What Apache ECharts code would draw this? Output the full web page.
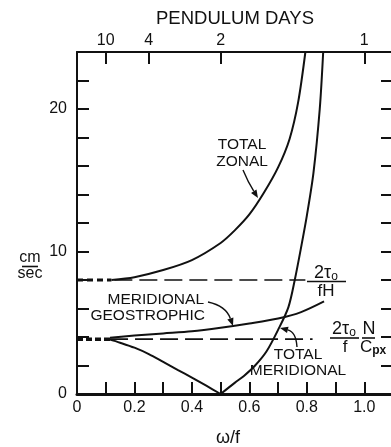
<!DOCTYPE html>
<html><head><meta charset="utf-8">
<script src="https://cdn.jsdelivr.net/npm/echarts@6/dist/echarts.min.js"></script>
<style>html,body{margin:0;padding:0;background:#fff}#c{width:391px;height:447px}</style>
</head><body><div id="c"></div>
<script>
// ---- data ----
const totalZonal = [[0.12,8.0],[0.2,8.2],[0.3,8.7],[0.4,9.4],[0.5,10.6],[0.55,11.5],[0.6,12.6],[0.65,14.1],[0.7,15.9],[0.74,17.9],[0.77,20.5],[0.795,24]];
const meridionalGeo = [[0.115,3.95],[0.2,4.1],[0.3,4.25],[0.4,4.4],[0.5,4.65],[0.6,4.95],[0.7,5.3],[0.78,5.75],[0.86,6.5]];
const totalMeridLeft = [[0.11,3.85],[0.15,3.6],[0.2,3.25],[0.25,2.8],[0.3,2.25],[0.35,1.7],[0.4,1.15],[0.45,0.58],[0.5,0]];
const totalMeridRight = [[0.5,0],[0.55,0.8],[0.58,1.25],[0.62,2.0],[0.66,3.0],[0.7,4.5],[0.736,6.1],[0.758,8.0],[0.782,10.5],[0.8,12.5],[0.823,15.5],[0.845,20],[0.857,24]];
const levelFH = 8.0;        // 2 tau_o / fH
const levelFCpx = 3.85;     // 2 tau_o N / f C_px
const upperDashX = [0.13, 0.795];
const lowerDashX = [0.115, 0.82];
const nearZeroX = [0, 0.12];
const xLabelValues = [0, 0.2, 0.4, 0.6, 0.8, 1.0];
const yLabelValues = [0, 10, 20];
const pendulumDays = [10, 4, 2, 1];

const FONT = '"Liberation Sans", Arial, sans-serif';
const INK = '#111';
const chart = echarts.init(document.getElementById('c'), null, {renderer:'canvas'});

const line = (data, w, type) => ({
  type:'line', data, showSymbol:false, symbol:'none', smooth: type ? false : 0.3,
  xAxisIndex:0, yAxisIndex:0,
  lineStyle:{color:INK, width:w, type: type || 'solid'}, animation:false, silent:true, clip:true
});

chart.setOption({
  backgroundColor:'#fff',
  animation:false,
  grid:{left:77, top:52, width:316, height:342, outerBoundsMode:'none', containLabel:false},
  xAxis:[
    {type:'value', position:'bottom', min:0, max:1.1, interval:0.1,
     axisLine:{show:true, onZero:false, lineStyle:{color:INK, width:3}},
     axisTick:{show:true, inside:true, length:12, lineStyle:{color:INK, width:2}},
     axisLabel:{customValues:xLabelValues, color:INK, fontFamily:FONT, fontSize:16, margin:6,
       formatter:v => v === 0 ? '0' : v.toFixed(1)},
     splitLine:{show:false}},
    {type:'value', position:'top', min:0, max:1.1,
     axisLine:{show:true, onZero:false, lineStyle:{color:INK, width:2}},
     axisTick:{show:true, inside:true, length:12, customValues:pendulumDays.map(d=>1/d), lineStyle:{color:INK, width:2}},
     axisLabel:{customValues:pendulumDays.map(d=>1/d), color:INK, fontFamily:FONT, fontSize:16, margin:3,
       formatter:v => String(Math.round(1/v))},
     splitLine:{show:false},
     name:'PENDULUM DAYS', nameLocation:'middle', nameGap:24,
     nameTextStyle:{color:INK, fontFamily:FONT, fontSize:18.5}}
  ],
  yAxis:[
    {type:'value', position:'left', min:0, max:24, interval:2,
     axisLine:{show:true, onZero:false, lineStyle:{color:INK, width:2}},
     axisTick:{show:true, inside:true, length:12, lineStyle:{color:INK, width:2}},
     axisLabel:{customValues:yLabelValues, color:INK, fontFamily:FONT, fontSize:16, margin:10},
     splitLine:{show:false}},
    {type:'value', position:'right', min:0, max:24, interval:2,
     axisLine:{show:true, onZero:false, lineStyle:{color:INK, width:2}},
     axisTick:{show:true, inside:true, length:12, lineStyle:{color:INK, width:2}},
     axisLabel:{show:false}, splitLine:{show:false}}
  ],
  series:[
    line(totalZonal, 2),
    line(meridionalGeo, 2),
    line(totalMeridLeft, 2),
    line(totalMeridRight, 2),
    line(upperDashX.map(x=>[x, levelFH]), 1.6, [18,7]),
    line(lowerDashX.map(x=>[x, levelFCpx]), 1.6, [18,7]),
    line(nearZeroX.map(x=>[x, levelFH]), 3, [6,4]),
    line(nearZeroX.map(x=>[x, levelFCpx]), 3.5, [6,3])
  ]
});

// ---- annotations ----
function txt(x, y, text, opts) {
  return {type:'text', x, y, silent:true,
    style:Object.assign({text, fill:INK, font:'15.5px ' + FONT, align:'center', verticalAlign:'middle'}, opts||{})};
}
function seg(x1,y1,x2,y2,w) {
  return {type:'line', silent:true, shape:{x1,y1,x2,y2}, style:{stroke:INK, lineWidth:w||1.5}};
}
function arrow(p0, c, p1) {
  const dx = p1[0]-c[0], dy = p1[1]-c[1];
  const L = Math.hypot(dx,dy), ux = dx/L, uy = dy/L;
  const hl = 8, hw = 3.2;
  const bx = p1[0]-ux*hl, by = p1[1]-uy*hl;
  return [
    {type:'bezierCurve', silent:true, shape:{x1:p0[0],y1:p0[1],cpx1:c[0],cpy1:c[1],x2:bx,y2:by},
     style:{stroke:INK, lineWidth:1.4, fill:null}},
    {type:'polygon', silent:true, shape:{points:[[p1[0],p1[1]],[bx-uy*hw,by+ux*hw],[bx+uy*hw,by-ux*hw]]},
     style:{fill:INK}}
  ];
}
const sub = {fontSize:12, verticalAlign:'bottom', padding:[8,0,0,0], fontFamily:FONT};
const g = [];
g.push(txt(30, 258, 'cm', {font:'16px ' + FONT}));
g.push(seg(22, 266.5, 38, 266.5, 1.6));
g.push(txt(30, 274, 'sec', {font:'16px ' + FONT}));
g.push(txt(228, 438, 'ω/f', {font:'18px ' + FONT}));
g.push(txt(242, 145, 'TOTAL'));
g.push(txt(242, 162, 'ZONAL'));
g.push(...arrow([243,170],[248,182],[258,198]));
g.push(txt(204, 300, 'MERIDIONAL', {align:'right'}));
g.push(txt(205, 316, 'GEOSTROPHIC', {align:'right'}));
g.push(...arrow([208,302],[226,306],[233,326]));
g.push(txt(298, 355, 'TOTAL'));
g.push(txt(298, 371, 'MERIDIONAL'));
g.push(...arrow([297,347],[296,332],[280,328]));
g.push({type:'text', x:326, y:273, silent:true, style:{text:'2τ{s|o}', rich:{s:sub}, fill:INK, font:'18px '+FONT, align:'center', verticalAlign:'middle'}});
g.push(seg(307, 281.5, 346, 281.5, 1.6));
g.push(txt(326, 291, 'fH', {font:'17px ' + FONT}));
g.push({type:'text', x:344, y:329, silent:true, style:{text:'2τ{s|o}', rich:{s:sub}, fill:INK, font:'18px '+FONT, align:'center', verticalAlign:'middle'}});
g.push(txt(369, 329, 'N', {font:'18px ' + FONT}));
g.push(seg(330, 338, 359, 338, 1.6));
g.push(seg(362, 338, 375, 338, 1.6));
g.push(txt(345, 347, 'f', {font:'17px ' + FONT}));
g.push({type:'text', x:360, y:347, silent:true, style:{text:'C{s|px}', rich:{s:{fontSize:12, padding:[8,0,0,0], fontFamily:FONT, fontWeight:'bold'}}, fill:INK, font:'17px '+FONT, align:'left', verticalAlign:'middle'}});
chart.setOption({graphic:{elements:g}});
</script></body></html>
